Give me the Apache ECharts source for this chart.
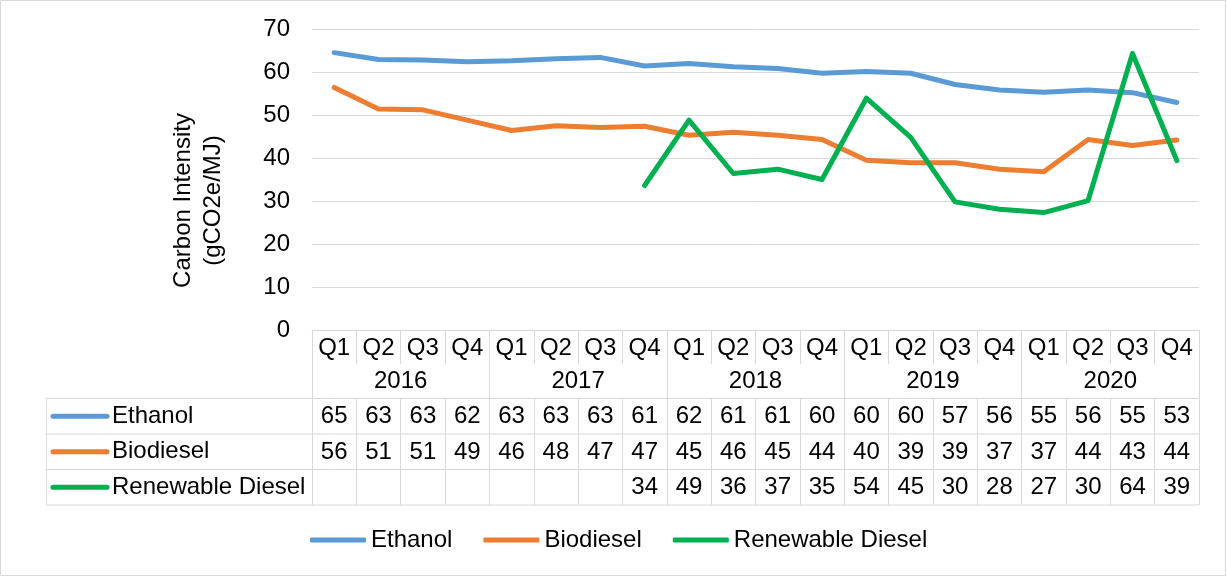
<!DOCTYPE html>
<html>
<head>
<meta charset="utf-8">
<script src="https://cdn.jsdelivr.net/npm/echarts@6/dist/echarts.min.js"></script>
<style>
html, body { margin: 0; padding: 0; background: #fff; }
#chart { width: 1227px; height: 577px; }
</style>
</head>
<body>
<div id="chart"></div>
<script>
var quarters = ['Q1','Q2','Q3','Q4','Q1','Q2','Q3','Q4','Q1','Q2','Q3','Q4','Q1','Q2','Q3','Q4','Q1','Q2','Q3','Q4'];
var years = ['2016','2017','2018','2019','2020'];
var seriesNames = ['Ethanol', 'Biodiesel', 'Renewable Diesel'];
var ethanol = [64.5, 62.9, 62.8, 62.4, 62.6, 63.1, 63.4, 61.4, 62.0, 61.2, 60.8, 59.7, 60.1, 59.7, 57.1, 55.8, 55.3, 55.8, 55.2, 52.9];
var biodiesel = [56.4, 51.4, 51.2, 48.8, 46.4, 47.5, 47.1, 47.4, 45.3, 46.0, 45.3, 44.3, 39.5, 38.9, 38.9, 37.4, 36.8, 44.3, 42.9, 44.2];
var renewable = [null, null, null, null, null, null, null, 33.6, 48.8, 36.4, 37.4, 35.0, 53.9, 44.8, 29.8, 28.1, 27.3, 30.1, 64.3, 39.4];
var yTicks = [0, 70, 10]; // min, max, step

var colors = ['#5B9BD5', '#ED7D31', '#00B050'];
var grey = '#D9D9D9';
var font = 'Liberation Sans, Arial, sans-serif';
var seriesData = [ethanol, biodiesel, renewable];

// table geometry (below the plot)
var tableLeft = 46, plotLeft = 312, plotRight = 1199;
var rowLines = [398.5, 434, 469.5, 505];

var myChart = echarts.init(document.getElementById('chart'));

function rowAxis(arr, offset, withTicks) {
    return {
        type: 'category',
        data: quarters,
        position: 'bottom',
        offset: offset,
        axisLine: { show: false },
        axisTick: { show: withTicks, interval: 0, length: rowLines[3] - rowLines[0], lineStyle: { color: grey } },
        axisLabel: {
            interval: 0, margin: 6, fontSize: 24, color: '#000', fontFamily: font,
            formatter: function (v, i) {
                return arr[i] == null ? '' : String(Math.round(arr[i]));
            }
        }
    };
}

var graphics = [
    // chart area border
    { type: 'rect', shape: { x: 0.5, y: 0.5, width: 1225, height: 575 }, style: { fill: null, stroke: grey, lineWidth: 1 }, silent: true }
];
rowLines.forEach(function (y) {
    graphics.push({ type: 'line', shape: { x1: tableLeft, y1: y, x2: plotRight, y2: y }, style: { stroke: grey, lineWidth: 1 }, silent: true });
});
graphics.push({ type: 'line', shape: { x1: tableLeft + 0.5, y1: rowLines[0], x2: tableLeft + 0.5, y2: rowLines[3] }, style: { stroke: grey, lineWidth: 1 }, silent: true });
seriesNames.forEach(function (name, i) {
    var cy = (rowLines[i] + rowLines[i + 1]) / 2;
    graphics.push({ type: 'line', shape: { x1: 53, y1: cy, x2: 107, y2: cy }, style: { stroke: colors[i], lineWidth: 5, lineCap: 'round' }, silent: true });
    graphics.push({ type: 'text', x: 112, y: cy, style: { text: name, fill: '#000', font: '24px ' + font, textVerticalAlign: 'middle' }, silent: true });
});

var option = {
    animation: false,
    color: colors,
    grid: { left: plotLeft, right: 1227 - plotRight, top: 29, bottom: 247 },
    legend: {
        data: seriesNames,
        left: 310,
        top: 528,
        padding: 0,
        icon: 'roundRect',
        itemWidth: 56,
        itemHeight: 5,
        itemGap: 31,
        textStyle: { fontSize: 24, color: '#000', fontFamily: font }
    },
    xAxis: [
        {
            type: 'category',
            data: quarters,
            position: 'bottom',
            axisLine: { show: true, lineStyle: { color: grey } },
            axisTick: { show: true, interval: 0, length: 34, lineStyle: { color: grey } },
            axisLabel: { interval: 0, margin: 6, fontSize: 24, color: '#000', fontFamily: font }
        },
        {
            type: 'category',
            data: years,
            position: 'bottom',
            axisLine: { show: false },
            axisTick: { show: true, interval: 0, length: rowLines[0] - 330, lineStyle: { color: grey } },
            axisLabel: { interval: 0, margin: 39, fontSize: 24, color: '#000', fontFamily: font }
        },
        rowAxis(ethanol, rowLines[0] - 330, true),
        rowAxis(biodiesel, rowLines[1] - 330, false),
        rowAxis(renewable, rowLines[2] - 330, false)
    ],
    yAxis: {
        type: 'value',
        min: yTicks[0],
        max: yTicks[1],
        interval: yTicks[2],
        name: 'Carbon Intensity\n(gCO2e/MJ)',
        nameLocation: 'middle',
        nameRotate: 90,
        nameGap: 84,
        nameTextStyle: { fontSize: 24, lineHeight: 30, color: '#000', fontFamily: font, padding: [0, 42, 0, 0] },
        axisLine: { show: false },
        axisTick: { show: false },
        axisLabel: { margin: 22, fontSize: 24, color: '#000', fontFamily: font },
        splitLine: { lineStyle: { color: grey, width: 1 } }
    },
    series: seriesNames.map(function (name, i) {
        return {
            name: name,
            type: 'line',
            xAxisIndex: 0,
            data: seriesData[i],
            symbol: 'none',
            connectNulls: false,
            lineStyle: { width: 5, color: colors[i], cap: 'round', join: 'round' },
            itemStyle: { color: colors[i] }
        };
    }),
    graphic: graphics
};
myChart.setOption(option);
</script>
</body>
</html>
